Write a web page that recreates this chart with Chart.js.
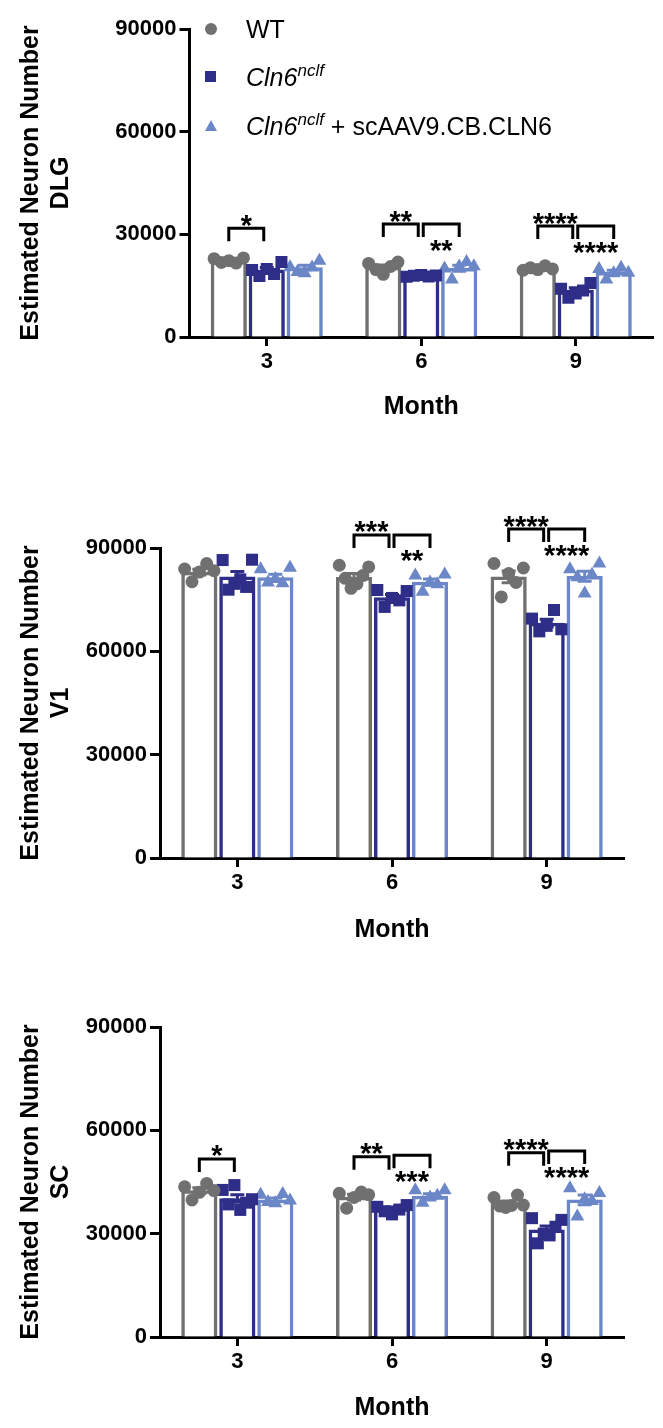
<!DOCTYPE html>
<html>
<head>
<meta charset="utf-8">
<script src="https://cdn.jsdelivr.net/npm/chart.js@4.4.1/dist/chart.umd.min.js"></script>
<style>
  html, body { margin: 0; padding: 0; background: #fff; }
  #fig { position: relative; width: 663px; height: 1428px; overflow: hidden; }
  #fig canvas { position: absolute; left: 0; }
  .lg-row { position: absolute; left: 0; height: 30px; width: 663px; }
  .lg-mk { position: absolute; }
  .lg-txt { position: absolute; left: 246px; top: 0; line-height: 30px; white-space: nowrap;
            font-family: "Liberation Sans", Arial, sans-serif; font-size: 25px; color: #000; }
  .lg-txt sup { font-size: 17px; vertical-align: baseline; position: relative; top: -10px; }
</style>
</head>
<body>
<div id="fig">
  <canvas id="dlg" width="663" height="440" style="top:0"></canvas>
  <canvas id="v1" width="663" height="480" style="top:480px"></canvas>
  <canvas id="sc" width="663" height="468" style="top:960px"></canvas>

  <!-- legend, top panel only -->
  <div class="lg-row" style="top:14px">
    <span class="lg-mk" style="left:205px;top:9px;width:12px;height:12px;border-radius:50%;background:#707070"></span>
    <span class="lg-txt">WT</span>
  </div>
  <div class="lg-row" style="top:62px">
    <span class="lg-mk" style="left:205px;top:9px;width:11px;height:11px;background:#2e2d87"></span>
    <span class="lg-txt"><i>Cln6<sup>nclf</sup></i></span>
  </div>
  <div class="lg-row" style="top:111px">
    <span class="lg-mk" style="left:205px;top:9px;width:0;height:0;border-left:6.5px solid transparent;border-right:6.5px solid transparent;border-bottom:11px solid #6b87c7"></span>
    <span class="lg-txt"><i>Cln6<sup>nclf</sup></i> + scAAV9.CB.CLN6</span>
  </div>
</div>

<script>
const months = ['3', '6', '9'];
const yTicks = [0, 30000, 60000, 90000];

// DLG
const dlgWT = [22200, 20400, 20000];
const dlgCln = [19600, 17900, 13700];
const dlgAAV = [20300, 20100, 18900];
const dlgWTPts = [[22900, 21800, 22300, 21600, 23100], [21500, 19700, 18300, 20600, 21900], [19500, 20200, 19700, 20800, 19900]];
const dlgClnPts = [[19600, 17800, 19900, 18400, 21900], [17600, 17900, 18100, 17700, 18000], [14100, 11500, 12700, 13600, 15800]];
const dlgAAVPts = [[20400, 19000, 18600, 20300, 22300], [20000, 16800, 20600, 21900, 20700], [19900, 16800, 18600, 20200, 18800]];

// V1
const v1WT = [83000, 81500, 81600];
const v1Cln = [81600, 75600, 68200];
const v1AAV = [81400, 80100, 81800];
const v1WTPts = [[83900, 80200, 83000, 85500, 83400], [85000, 81200, 78300, 79600, 82000, 84500], [85500, 75800, 82600, 80000, 84200]];
const v1ClnPts = [[86500, 77900, 79600, 80900, 78700, 86600], [77800, 72900, 75500, 74800, 77500], [69500, 65800, 67400, 72000, 66400]];
const v1AAVPts = [[83800, 80000, 81000, 79800, 84300], [82000, 77300, 80000, 79500, 82300], [83800, 81500, 76800, 82200, 85500]];

// SC
const scWT = [42500, 40600, 38900];
const scCln = [40200, 37300, 31100];
const scAAV = [39800, 40900, 39800];
const scWTPts = [[43600, 39800, 42000, 44600, 42500], [41700, 37400, 40500, 42100, 41300], [40500, 38000, 37600, 38200, 41200, 38300]];
const scClnPts = [[42700, 38500, 44100, 36900, 39000, 40000], [37800, 36500, 35600, 37000, 38300], [34500, 27200, 30000, 29500, 32000, 34000]];
const scAAVPts = [[41300, 39200, 38800, 41500, 39600], [42600, 39000, 40500, 41000, 42600], [43200, 35000, 40000, 39500, 41800]];

// significance brackets: month index, from group, to group, height, stars
const dlgSig = [
  [0, 0, 1, 31800, '*'],
  [1, 0, 1, 33000, '**'], [1, 1, 2, 33000, '**'],
  [2, 0, 1, 32400, '****'], [2, 1, 2, 32400, '****']
];
const v1Sig = [
  [1, 0, 1, 93800, '***'], [1, 1, 2, 93800, '**'],
  [2, 0, 1, 95500, '****'], [2, 1, 2, 95500, '****']
];
const scSig = [
  [0, 0, 1, 51700, '*'],
  [1, 0, 1, 52300, '**'], [1, 1, 2, 52800, '***'],
  [2, 0, 1, 53500, '****'], [2, 1, 2, 54000, '****']
];

const FONT = '"Liberation Sans", Arial, Helvetica, sans-serif';
const GRAY = '#707070', NAVY = '#2e2d87', LIGHT = '#6b87c7';
const GROUP_STEP = 0.2457;   // distance between neighbouring bars, in month slots
const BAR_PX = 35.5;

// bars sit on the hidden linear axis: month index plus group offset
function barXY(means, k) {
  return means.map((m, i) => ({ x: i + (k - 1) * GROUP_STEP, y: m }));
}

// spread the dots of one group across its bar
function toXY(ptsByMonth, k) {
  const out = [];
  ptsByMonth.forEach((vals, i) => {
    const n = vals.length;
    vals.forEach((v, j) => {
      const jit = n > 1 ? (j / (n - 1) - 0.5) * 0.19 : 0;
      out.push({ x: i + (k - 1) * GROUP_STEP + jit, y: v });
    });
  });
  return out;
}

function sem(vals) {
  const m = vals.reduce((a, b) => a + b, 0) / vals.length;
  const sd = Math.sqrt(vals.reduce((a, b) => a + (b - m) * (b - m), 0) / (vals.length - 1));
  return sd / Math.sqrt(vals.length);
}

function makePanel(id, p) {
  const groups = [
    { label: 'WT', means: p.wt, pts: p.wtPts, color: GRAY, style: 'circle', r: 6.5 },
    { label: 'Cln6nclf', means: p.cln, pts: p.clnPts, color: NAVY, style: 'rect', r: 8.5 },
    { label: 'Cln6nclf + scAAV9.CB.CLN6', means: p.aav, pts: p.aavPts, color: LIGHT, style: 'triangle', r: 8 }
  ];

  const datasets = [];
  groups.forEach((g, k) => datasets.push({
    type: 'bar', label: g.label, data: barXY(g.means, k), xAxisID: 'xs', yAxisID: 'y',
    backgroundColor: '#fff', borderColor: g.color, borderWidth: 3.5,
    grouped: false, barThickness: BAR_PX, order: 2
  }));
  groups.forEach((g, k) => datasets.push({
    type: 'scatter', label: g.label + ' pts', data: toXY(g.pts, k), xAxisID: 'xs', yAxisID: 'y',
    pointStyle: g.style, pointRadius: g.r, backgroundColor: g.color, borderWidth: 0, order: 1
  }));

  // mean +/- SEM, drawn right after each bar dataset
  const errorBars = {
    id: 'errorBars',
    afterDatasetDraw(chart, args) {
      const k = args.index;
      if (k > 2) return;
      const { ctx } = chart;
      const y = chart.scales.y;
      const meta = chart.getDatasetMeta(k);
      ctx.save();
      ctx.strokeStyle = groups[k].color;
      ctx.lineWidth = 3;
      meta.data.forEach((bar, i) => {
        const e = sem(groups[k].pts[i]);
        const m = groups[k].means[i];
        const top = y.getPixelForValue(m + e), bot = y.getPixelForValue(m - e);
        ctx.beginPath();
        ctx.moveTo(bar.x, top); ctx.lineTo(bar.x, bot);
        ctx.moveTo(bar.x - 7, top); ctx.lineTo(bar.x + 7, top);
        ctx.moveTo(bar.x - 7, bot); ctx.lineTo(bar.x + 7, bot);
        ctx.stroke();
      });
      ctx.restore();
    }
  };

  const brackets = {
    id: 'brackets',
    afterDraw(chart) {
      const { ctx } = chart;
      const y = chart.scales.y;
      ctx.save();
      ctx.strokeStyle = '#000';
      ctx.fillStyle = '#000';
      ctx.lineWidth = 3;
      ctx.font = 'bold 29px ' + FONT;
      ctx.textAlign = 'center';
      ctx.textBaseline = 'alphabetic';
      p.sig.forEach(([cat, a, b, val, stars]) => {
        const xa = chart.getDatasetMeta(a).data[cat].x + (a === 1 ? 2 : 0);
        const xb = chart.getDatasetMeta(b).data[cat].x - (b === 1 ? 3 : 0);
        const yy = y.getPixelForValue(val);
        ctx.beginPath();
        ctx.moveTo(xa, yy + 13); ctx.lineTo(xa, yy); ctx.lineTo(xb, yy); ctx.lineTo(xb, yy + 13);
        ctx.stroke();
        // the right-hand comparison puts its stars under the bracket
        const cy = (a === 1) ? yy + 19 : yy - 10;
        ctx.fillText(stars, (xa + xb) / 2, cy + 0.57 * 29);
      });
      ctx.restore();
    }
  };

  const H = document.getElementById(id).height;
  return new Chart(document.getElementById(id), {
    type: 'bar',
    data: { labels: months, datasets },
    options: {
      responsive: false,
      animation: false,
      devicePixelRatio: 1,
      layout: { padding: { left: 0, top: p.top, right: 663 - p.right, bottom: 0 } },
      plugins: { legend: { display: false }, tooltip: { enabled: false } },
      scales: {
        x: {
          type: 'category', offset: true,
          grid: { offset: false, drawOnChartArea: false, drawTicks: true, tickLength: 9, tickWidth: 3, tickColor: '#000' },
          border: { display: true, width: 3, color: '#000' },
          ticks: { color: '#000', padding: 3, maxRotation: 0, font: { family: FONT, size: 22, weight: 'bold' } },
          title: { display: true, text: 'Month', color: '#000', font: { family: FONT, size: 25, weight: 'bold' },
                   padding: { top: 0, bottom: H - p.month - 15 } },
          afterFit: s => { s.height = H - p.bottom; }
        },
        xs: { type: 'linear', display: false, offset: false, min: -0.5, max: 2.5 },
        y: {
          type: 'linear', min: 0, max: 90000,
          afterBuildTicks: s => { s.ticks = yTicks.map(v => ({ value: v })); },
          grid: { drawOnChartArea: false, drawTicks: true, tickLength: 10, tickWidth: 3, tickColor: '#000' },
          border: { display: true, width: 3, color: '#000' },
          ticks: { color: '#000', padding: 3, font: { family: FONT, size: 22, weight: 'bold' }, callback: v => String(v) },
          title: { display: true, text: ['Estimated Neuron Number', p.region], color: '#000',
                   font: { family: FONT, size: 25, weight: 'bold' }, padding: { top: 16, bottom: 0 } },
          afterFit: s => { s.width = p.left; }
        }
      }
    },
    plugins: [errorBars, brackets]
  });
}

// chart area edges are in canvas pixels
makePanel('dlg', { region: 'DLG', wt: dlgWT, cln: dlgCln, aav: dlgAAV, wtPts: dlgWTPts, clnPts: dlgClnPts, aavPts: dlgAAVPts,
  sig: dlgSig, left: 189.5, right: 653, top: 29, bottom: 337, month: 407 });
makePanel('v1', { region: 'V1', wt: v1WT, cln: v1Cln, aav: v1AAV, wtPts: v1WTPts, clnPts: v1ClnPts, aavPts: v1AAVPts,
  sig: v1Sig, left: 160, right: 624, top: 68, bottom: 378, month: 450 });
makePanel('sc', { region: 'SC', wt: scWT, cln: scCln, aav: scAAV, wtPts: scWTPts, clnPts: scClnPts, aavPts: scAAVPts,
  sig: scSig, left: 160, right: 624, top: 67, bottom: 377, month: 448 });
</script>
</body>
</html>
